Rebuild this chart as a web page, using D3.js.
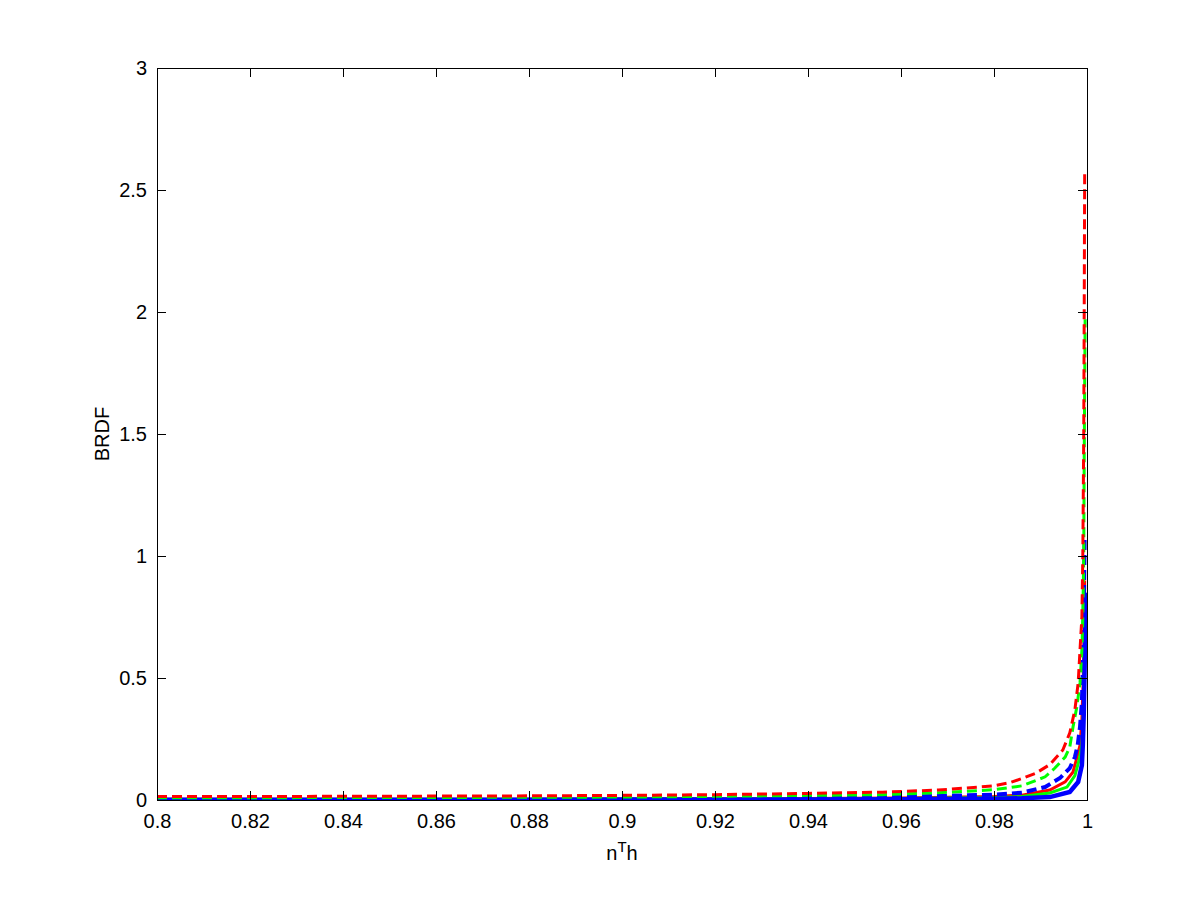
<!DOCTYPE html>
<html>
<head>
<meta charset="utf-8">
<script src="https://cdn.jsdelivr.net/npm/d3@7/dist/d3.min.js"></script>
<style>
  html, body { margin: 0; padding: 0; background: #fff; }
  svg text { font-family: "Liberation Sans", Arial, Helvetica, sans-serif; fill: #000; }
</style>
</head>
<body>
<svg id="chart" width="1200" height="900"></svg>
<script>
// ---- data ----
const xTicks = [0.8, 0.82, 0.84, 0.86, 0.88, 0.9, 0.92, 0.94, 0.96, 0.98, 1];
const yTicks = [0, 0.5, 1, 1.5, 2, 2.5, 3];
const xTickLabels = ["0.8", "0.82", "0.84", "0.86", "0.88", "0.9", "0.92", "0.94", "0.96", "0.98", "1"];
const yTickLabels = ["0", "0.5", "1", "1.5", "2", "2.5", "3"];

const redSolidX = [0.800, 0.860, 0.900, 0.940, 0.960, 0.980, 0.986, 0.992, 0.9953, 0.9970, 0.9978, 0.9985, 0.9989, 0.9992, 0.9994, 0.9995];
const redSolidY = [0.003, 0.003, 0.004, 0.006, 0.008, 0.014, 0.020, 0.041, 0.074, 0.115, 0.172, 0.225, 0.330, 0.500, 0.700, 0.900];

const greenSolidX = [0.800, 0.860, 0.900, 0.940, 0.960, 0.980, 0.986, 0.992, 0.9957, 0.9974, 0.9983, 0.9989, 0.9992, 0.9994, 0.9996];
const greenSolidY = [0.002, 0.002, 0.003, 0.004, 0.006, 0.010, 0.014, 0.029, 0.053, 0.100, 0.164, 0.225, 0.350, 0.550, 0.800];

const blueSolidX = [0.800, 0.860, 0.900, 0.940, 0.960, 0.980, 0.986, 0.992, 0.9963, 0.9981, 0.9989, 0.9991, 0.9993, 0.9995, 0.9997];
const blueSolidY = [0.001, 0.001, 0.002, 0.002, 0.003, 0.005, 0.007, 0.012, 0.033, 0.074, 0.143, 0.225, 0.350, 0.550, 0.850];

const redDashX = [0.800, 0.840, 0.880, 0.900, 0.920, 0.940, 0.956, 0.968, 0.974, 0.980, 0.9834, 0.9862, 0.9890, 0.9920, 0.9948, 0.9963, 0.9974, 0.9981, 0.9985, 0.9989, 0.9991, 0.9993, 0.9994, 0.9995];
const redDashY = [0.014, 0.015, 0.017, 0.019, 0.022, 0.027, 0.032, 0.041, 0.049, 0.058, 0.071, 0.089, 0.110, 0.145, 0.205, 0.275, 0.370, 0.480, 0.615, 0.750, 1.000, 1.500, 2.000, 2.570];

const greenDashX = [0.800, 0.840, 0.880, 0.900, 0.920, 0.940, 0.956, 0.968, 0.980, 0.986, 0.989, 0.991, 0.9931, 0.9953, 0.9963, 0.9970, 0.9978, 0.9985, 0.9989, 0.9991, 0.9993, 0.9994, 0.9995, 0.9996];
const greenDashY = [0.009, 0.010, 0.011, 0.012, 0.015, 0.019, 0.022, 0.030, 0.042, 0.058, 0.080, 0.095, 0.131, 0.176, 0.217, 0.300, 0.380, 0.480, 0.615, 0.750, 1.000, 1.400, 1.700, 1.970];

const blueDashX = [0.800, 0.860, 0.900, 0.940, 0.960, 0.980, 0.986, 0.991, 0.9942, 0.9963, 0.9974, 0.9980, 0.9985, 0.9989, 0.9991, 0.9993, 0.9995];
const blueDashY = [0.004, 0.005, 0.006, 0.009, 0.013, 0.022, 0.030, 0.053, 0.090, 0.131, 0.176, 0.225, 0.300, 0.400, 0.545, 0.750, 1.070];

const series = [
  { x: redSolidX,   y: redSolidY,   color: "#ff0000", width: 3,   dash: null },
  { x: greenSolidX, y: greenSolidY, color: "#00ff00", width: 3,   dash: null },
  { x: blueSolidX,  y: blueSolidY,  color: "#0000ff", width: 4.5, dash: null },
  { x: blueDashX,   y: blueDashY,   color: "#0000ff", width: 4,   dash: "10,5" },
  { x: greenDashX,  y: greenDashY,  color: "#00ff00", width: 3,   dash: "10,5" },
  { x: redDashX,    y: redDashY,    color: "#ff0000", width: 3,   dash: "10,5" }
];

// ---- layout ----
const mLeft = 157, mRight = 1087, mTop = 68, mBottom = 800;
const svg = d3.select("#chart");
const x = d3.scaleLinear().domain([0.8, 1]).range([mLeft, mRight]);
const y = d3.scaleLinear().domain([0, 3]).range([mBottom, mTop]);

svg.append("defs").append("clipPath").attr("id", "clip")
  .append("rect").attr("x", mLeft).attr("y", mTop - 2)
  .attr("width", mRight - mLeft + 1).attr("height", mBottom - mTop + 3);

const plot = svg.append("g").attr("clip-path", "url(#clip)");
const line = d3.line().x(d => x(d[0])).y(d => y(d[1]));
series.forEach(s => {
  const pts = s.x.map((v, i) => [v, s.y[i]]);
  plot.append("path")
    .attr("d", line(pts))
    .attr("fill", "none")
    .attr("stroke", s.color)
    .attr("stroke-width", s.width)
    .attr("stroke-dasharray", s.dash)
    .attr("stroke-linejoin", "miter")
    .attr("stroke-linecap", "butt");
});

// axes (MATLAB style: inward ticks on all four sides)
const tl = 9;
const fmtX = (d, i) => xTickLabels[i];
const fmtY = (d, i) => yTickLabels[i];

const xb = svg.append("g").attr("transform", `translate(0,${mBottom})`)
  .call(d3.axisBottom(x).tickValues(xTicks).tickFormat(fmtX).tickSizeInner(-tl).tickSizeOuter(0).tickPadding(14));
const xt = svg.append("g").attr("transform", `translate(0,${mTop})`)
  .call(d3.axisTop(x).tickValues(xTicks).tickFormat("").tickSizeInner(-tl).tickSizeOuter(0));
const yl = svg.append("g").attr("transform", `translate(${mLeft},0)`)
  .call(d3.axisLeft(y).tickValues(yTicks).tickFormat(fmtY).tickSizeInner(-tl).tickSizeOuter(0).tickPadding(10));
const yr = svg.append("g").attr("transform", `translate(${mRight},0)`)
  .call(d3.axisRight(y).tickValues(yTicks).tickFormat("").tickSizeInner(-tl).tickSizeOuter(0));

[xb, xt, yl, yr].forEach(g => {
  g.select(".domain").remove();
  g.selectAll("line").attr("stroke", "#000").attr("stroke-width", 1).attr("shape-rendering", "crispEdges");
  g.selectAll("text").attr("font-size", 20).attr("font-family", "Liberation Sans, Arial, sans-serif").attr("fill", "#000");
});

// box
svg.append("rect").attr("x", mLeft).attr("y", mTop)
  .attr("width", mRight - mLeft).attr("height", mBottom - mTop)
  .attr("fill", "none").attr("stroke", "#000").attr("stroke-width", 1)
  .attr("shape-rendering", "crispEdges");

// labels
const xl = svg.append("text").attr("x", (mLeft + mRight) / 2).attr("y", 860)
  .attr("text-anchor", "middle").attr("font-size", 20);
xl.append("tspan").text("n");
xl.append("tspan").attr("baseline-shift", "super").attr("font-size", 15).text("T");
xl.append("tspan").text("h");

svg.append("text")
  .attr("transform", `translate(109,${(mTop + mBottom) / 2}) rotate(-90)`)
  .attr("text-anchor", "middle").attr("font-size", 20).text("BRDF");
</script>
</body>
</html>
